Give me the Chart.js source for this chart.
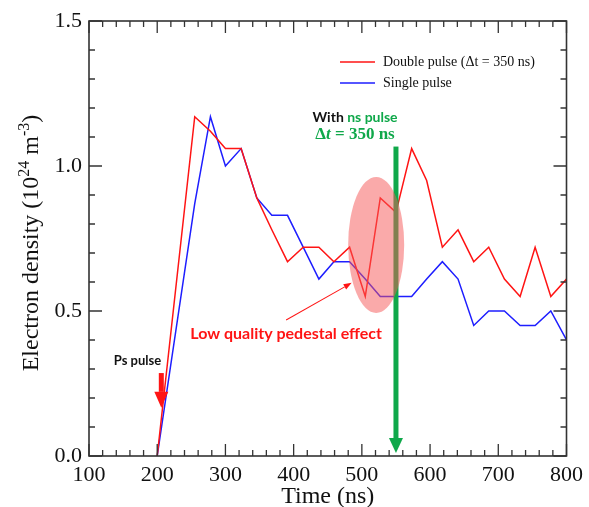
<!DOCTYPE html>
<html>
<head>
<meta charset="utf-8">
<script src="https://cdn.jsdelivr.net/npm/chart.js@4.4.1/dist/chart.umd.min.js"></script>
<style>
  html, body { margin: 0; padding: 0; background: #fff; }
  #wrap { width: 589px; height: 507px; }
</style>
</head>
<body>
<div id="wrap"><canvas id="chart" width="589" height="507"></canvas></div>
<script>
// time axis (ns), shared by both curves
const times = [200, 255, 278, 300, 323, 346, 368, 391, 414, 437, 459, 482, 505, 527, 550, 573, 595, 618, 641, 664, 686, 709, 732, 754, 777, 800];
// electron density, 10^24 m^-3
const doublePulse = [0, 1.17, 1.12, 1.06, 1.06, 0.89, 0.78, 0.67, 0.72, 0.72, 0.67, 0.72, 0.55, 0.89, 0.84, 1.06, 0.95, 0.72, 0.78, 0.67, 0.72, 0.61, 0.55, 0.72, 0.55, 0.61];
const singlePulse = [0, 0.87, 1.17, 1.00, 1.06, 0.89, 0.83, 0.83, 0.72, 0.61, 0.67, 0.67, 0.61, 0.55, 0.55, 0.55, 0.61, 0.67, 0.61, 0.45, 0.50, 0.50, 0.45, 0.45, 0.50, 0.40];
const seriesLabels = ['Double pulse (\u0394t = 350 ns)', 'Single pulse'];
const xTicks = [100, 200, 300, 400, 500, 600, 700, 800];
const yTicks = [0, 0.5, 1.0, 1.5];

const RED = '#ff1414';
const BLUE = '#1e1eff';
const GREEN = '#0fa84a';
const SERIF = '"Liberation Serif", "Times New Roman", serif';
const SANS = 'Lato, "Open Sans", sans-serif';

function toPoints(vals) {
  return times.map((t, i) => ({ x: t, y: vals[i] }));
}

function arrow(ctx, x1, y1, x2, y2, shaftW, headW, headL, color) {
  const ang = Math.atan2(y2 - y1, x2 - x1);
  const len = Math.hypot(x2 - x1, y2 - y1);
  ctx.save();
  ctx.translate(x1, y1);
  ctx.rotate(ang);
  ctx.fillStyle = color;
  ctx.fillRect(0, -shaftW / 2, len - headL, shaftW);
  ctx.beginPath();
  ctx.moveTo(len, 0);
  ctx.lineTo(len - headL, -headW / 2);
  ctx.lineTo(len - headL, headW / 2);
  ctx.closePath();
  ctx.fill();
  ctx.restore();
}

const decor = {
  id: 'decor',
  afterDatasetsDraw(chart) {
    const ctx = chart.ctx;
    const xs = chart.scales.x, ys = chart.scales.y;
    const px = v => xs.getPixelForValue(v);
    const py = v => ys.getPixelForValue(v);
    const a = chart.chartArea;

    // inward ticks on all four sides
    ctx.save();
    ctx.strokeStyle = '#333';
    ctx.lineWidth = 1.3;
    ctx.beginPath();
    for (let t = 100; t <= 800; t += 20) {
      const len = t % 100 === 0 ? 12 : 6;
      const x = px(t);
      ctx.moveTo(x, a.bottom); ctx.lineTo(x, a.bottom - len);
      ctx.moveTo(x, a.top); ctx.lineTo(x, a.top + len);
    }
    for (let k = 0; k <= 15; k++) {
      const len = k % 5 === 0 ? 13 : 6;
      const y = py(k / 10);
      ctx.moveTo(a.left, y); ctx.lineTo(a.left + len, y);
      ctx.moveTo(a.right, y); ctx.lineTo(a.right - len, y);
    }
    ctx.stroke();
    ctx.lineWidth = 1.6;
    ctx.strokeRect(a.left, a.top, a.right - a.left, a.bottom - a.top);
    ctx.restore();

    // green vertical arrow at 550 ns
    arrow(ctx, px(550), py(1.067), px(550), py(0.01), 5, 14, 15, GREEN);

    // translucent ellipse marking the pedestal effect
    ctx.save();
    ctx.fillStyle = 'rgba(245, 85, 85, 0.5)';
    ctx.beginPath();
    ctx.ellipse(px(521), py(0.728), 28, 68, 0, 0, Math.PI * 2);
    ctx.fill();
    ctx.restore();

    // thin red arrow from label to ellipse
    arrow(ctx, px(389), py(0.469), px(485), py(0.597), 1, 6, 8, RED);

    // Ps pulse arrow
    arrow(ctx, px(206), py(0.286), px(206), py(0.166), 5, 14, 16, RED);

    ctx.save();
    ctx.textBaseline = 'middle';
    ctx.textAlign = 'center';
    ctx.font = 'bold 13px ' + SANS;
    ctx.fillStyle = '#111';
    ctx.fillText('Ps pulse', px(171), py(0.328));

    ctx.font = 'bold 16px ' + SANS;
    ctx.fillStyle = RED;
    ctx.fillText('Low quality pedestal effect', px(389), py(0.42));

    // "With ns pulse"
    ctx.font = 'bold 14px ' + SANS;
    const w1 = ctx.measureText('With ').width;
    const w2 = ctx.measureText('ns pulse').width;
    let sx = px(490) - (w1 + w2) / 2;
    ctx.textAlign = 'left';
    ctx.fillStyle = '#111';
    ctx.fillText('With ', sx, py(1.169));
    ctx.fillStyle = GREEN;
    ctx.fillText('ns pulse', sx + w1, py(1.169));

    // "Δt = 350 ns"
    const parts = [['bold ', '\u0394'], ['italic bold ', 't'], ['bold ', ' = 350 ns']];
    let tot = 0;
    parts.forEach(p => { ctx.font = p[0] + '17px ' + SERIF; tot += ctx.measureText(p[1]).width; });
    sx = px(490) - tot / 2;
    parts.forEach(p => {
      ctx.font = p[0] + '17px ' + SERIF;
      ctx.fillText(p[1], sx, py(1.107));
      sx += ctx.measureText(p[1]).width;
    });

    // legend
    const colors = [RED, BLUE];
    ctx.font = '14px ' + SERIF;
    ctx.fillStyle = '#111';
    seriesLabels.forEach((lab, i) => {
      const y = 62 + i * 21;
      ctx.strokeStyle = colors[i];
      ctx.lineWidth = 1.5;
      ctx.beginPath();
      ctx.moveTo(340, y); ctx.lineTo(375, y);
      ctx.stroke();
      ctx.fillText(lab, 383, y);
    });
    ctx.restore();
  },
  afterDraw(chart) {
    const ctx = chart.ctx;
    const a = chart.chartArea;
    ctx.save();
    ctx.fillStyle = '#111';
    // x title
    ctx.font = '24px ' + SERIF;
    ctx.textAlign = 'center';
    ctx.textBaseline = 'middle';
    ctx.fillText('Time (ns)', (a.left + a.right) / 2, 497);

    // y title with superscripts, rotated
    const big = '24px ' + SERIF, small = '16px ' + SERIF;
    const parts = [[big, 'Electron density (10', 0], [small, '24', 9], [big, ' m', 0], [small, '-3', 9], [big, ')', 0]];
    let tot = 0;
    parts.forEach(p => { ctx.font = p[0]; tot += ctx.measureText(p[1]).width; });
    ctx.translate(38, 243);
    ctx.rotate(-Math.PI / 2);
    ctx.textAlign = 'left';
    ctx.textBaseline = 'alphabetic';
    let x = -tot / 2;
    parts.forEach(p => {
      ctx.font = p[0];
      ctx.fillText(p[1], x, -p[2]);
      x += ctx.measureText(p[1]).width;
    });
    ctx.restore();
  }
};

new Chart(document.getElementById('chart'), {
  type: 'line',
  data: {
    datasets: [
      { label: seriesLabels[0], data: toPoints(doublePulse), borderColor: RED, borderWidth: 1.5, pointRadius: 0, tension: 0, fill: false },
      { label: seriesLabels[1], data: toPoints(singlePulse), borderColor: BLUE, borderWidth: 1.5, pointRadius: 0, tension: 0, fill: false }
    ]
  },
  options: {
    responsive: false,
    animation: false,
    layout: { padding: { top: 21, right: 22, left: 0, bottom: 0 } },
    plugins: { legend: { display: false }, tooltip: { enabled: false } },
    scales: {
      x: {
        type: 'linear', min: 100, max: 800,
        afterBuildTicks: s => { s.ticks = xTicks.map(v => ({ value: v })); },
        afterFit: s => { s.height = 51; },
        grid: { display: false, drawTicks: false },
        border: { display: false },
        ticks: { color: '#111', font: { family: SERIF, size: 22 }, padding: 6, maxRotation: 0, autoSkip: false }
      },
      y: {
        min: 0, max: 1.5,
        afterBuildTicks: s => { s.ticks = yTicks.map(v => ({ value: v })); },
        afterFit: s => { s.width = 89; },
        grid: { display: false, drawTicks: false },
        border: { display: false },
        ticks: { color: '#111', font: { family: SERIF, size: 22 }, padding: 7, callback: v => v.toFixed(1) }
      }
    }
  },
  plugins: [decor]
});
</script>
</body>
</html>
